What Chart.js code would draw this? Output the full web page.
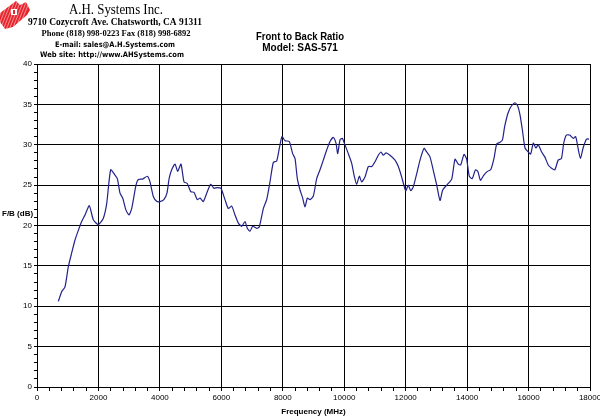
<!DOCTYPE html>
<html>
<head>
<meta charset="utf-8">
<script src="https://cdn.jsdelivr.net/npm/chart.js@4.4.1/dist/chart.umd.min.js"></script>
<style>
  html, body { margin: 0; padding: 0; background: #fff; }
  #wrap { width: 600px; height: 417px; }
</style>
</head>
<body>
<div id="wrap"><canvas id="fbChart"></canvas></div>
<script>
// Front to back ratio
const freqMHz = [
  694, 803, 911, 1020, 1129, 1237, 1345, 1454, 1562, 1703, 1834, 1997, 2159, 2268,
  2398, 2539, 2615, 2702, 2789, 2897, 2995, 3082, 3222, 3298, 3440, 3591, 3678, 3786,
  3895, 4000, 4130, 4230, 4300, 4384, 4492, 4580, 4687, 4785, 4893, 5003, 5110, 5218,
  5306, 5413, 5524, 5654, 5761, 5869, 5989, 6119, 6227, 6337, 6445, 6553, 6662, 6770,
  6845, 6933, 7021, 7151, 7237, 7367, 7476, 7584, 7692, 7802, 7887, 7975, 8072, 8213,
  8322, 8398, 8474, 8561, 8648, 8723, 8799, 8886, 8995, 9104, 9212, 9319, 9430, 9537,
  9646, 9732, 9788, 9863, 9938, 10003, 10133, 10244, 10319, 10406, 10491, 10569, 10676,
  10784, 10894, 11002, 11109, 11197, 11273, 11360, 11490, 11653, 11761, 11871, 12001,
  12086, 12164, 12249, 12359, 12467, 12597, 12685, 12792, 12900, 13011, 13118, 13206,
  13336, 13499, 13606, 13713, 13791, 13899, 13986, 14071, 14166, 14271, 14350, 14433,
  14540, 14660, 14768, 14875, 14963, 15071, 15150, 15220, 15330, 15440, 15559, 15647,
  15722, 15800, 15884, 15990, 16069, 16155, 16240, 16315, 16425, 16530, 16640, 16750,
  16855, 16965, 17070, 17145, 17230, 17340, 17450, 17535, 17610, 17690, 17775, 17885, 17970
];
const fbRatio = [
  10.6, 11.8, 12.4, 14.9, 16.6, 18.2, 19.4, 20.5, 21.3, 22.45, 20.7, 20.1, 20.9, 22.7,
  26.9, 26.25, 25.8, 24.0, 23.4, 21.9, 21.3, 22.1, 25.0, 25.7, 25.75, 26.1, 25.4, 23.6,
  23.0, 22.95, 23.2, 24.0, 25.8, 26.9, 27.6, 26.7, 27.6, 25.4, 25.2, 24.2, 24.1, 23.2,
  23.4, 22.95, 24.0, 25.1, 24.6, 24.7, 24.6, 23.2, 22.1, 22.4, 21.3, 20.3, 19.9, 20.5,
  19.65, 19.3, 19.9, 19.65, 19.85, 22.1, 23.2, 25.4, 27.8, 28.0, 29.55, 31.0, 30.5, 30.4,
  28.9, 28.3, 25.8, 24.4, 23.4, 22.3, 23.4, 23.2, 23.65, 25.8, 26.9, 28.1, 29.35, 30.4,
  30.9, 30.2, 28.9, 30.6, 30.8, 30.2, 28.9, 27.7, 26.25, 25.1, 26.1, 25.4, 26.0,
  27.3, 27.3, 27.9, 28.7, 29.1, 28.7, 29.0, 28.7, 28.1, 27.3, 26.0, 24.3,
  25.0, 24.3, 24.8, 26.4, 28.1, 29.55, 29.1, 28.5, 26.8, 25.0, 23.1, 24.4,
  25.0, 25.75, 28.2, 27.6, 27.5, 28.8, 28.2, 26.1, 25.8, 26.9, 26.7, 25.6,
  26.2, 26.7, 26.9, 28.3, 30.1, 30.3, 30.6, 32.2, 33.9, 34.8, 35.2, 34.8,
  33.7, 31.8, 29.6, 29.1, 28.85, 30.2, 29.6, 30.0, 29.1, 28.5, 27.5, 27.1,
  26.9, 28.1, 28.3, 30.2, 31.2, 31.2, 30.8, 31.0, 29.6, 28.3, 29.6, 30.7, 30.7
];
const xMajorStep = 2000;
const yMajorStep = 5;
const headerLines = [
  'A.H. Systems Inc.',
  '9710 Cozycroft Ave. Chatsworth, CA 91311',
  'Phone (818) 998-0223 Fax (818) 998-6892',
  'E-mail: sales@A.H.Systems.com',
  'Web site: http://www.AHSystems.com'
];
const chartTitle = ['Front to Back Ratio', 'Model: SAS-571'];
const yTitle = 'F/B (dB)';
const xTitle = 'Frequency (MHz)';

const points = freqMHz.map((f, i) => ({ x: f, y: fbRatio[i] }));

// logo, letterhead, title and the horizontal y label
const decor = {
  id: 'decor',
  afterDraw(chart) {
    const c = chart.ctx;
    c.save();
    // red logo
    c.fillStyle = '#e8242c';
    c.beginPath();
    c.moveTo(0, 13); c.lineTo(16, 1); c.lineTo(20, 5); c.lineTo(26, 2);
    c.lineTo(30, 10); c.lineTo(27, 15); c.lineTo(13, 27); c.lineTo(5, 29); c.lineTo(0, 22);
    c.closePath();
    c.fill();
    c.strokeStyle = 'rgba(255,255,255,0.5)';
    c.lineWidth = 1;
    for (let k = 0; k < 32; k += 3) {
      c.beginPath(); c.moveTo(k, 0); c.lineTo(k - 12, 30); c.stroke();
    }
    c.fillStyle = '#fff';
    c.fillRect(11, 9, 6, 6);
    c.fillStyle = '#e8242c';
    c.fillRect(13, 10, 2, 4);

    c.fillStyle = '#000';
    c.textAlign = 'center';
    c.textBaseline = 'alphabetic';
    c.font = '14px "Liberation Serif"';
    c.fillText(headerLines[0], 116, 14, 94);
    c.font = 'bold 10.5px "Liberation Serif"';
    c.fillText(headerLines[1], 115, 25, 174);
    c.font = 'bold 8.5px "Liberation Serif"';
    c.fillText(headerLines[2], 116, 36, 154);
    c.font = 'bold 7.5px "DejaVu Sans"';
    c.fillText(headerLines[3], 115, 47, 120);
    c.fillText(headerLines[4], 112, 57, 144);

    c.font = 'bold 10px "Liberation Sans"';
    c.textBaseline = 'middle';
    c.fillText(chartTitle[0], 300, 37, 88);
    c.fillText(chartTitle[1], 300, 48);

    c.font = 'bold 8px "Liberation Sans"';
    c.textAlign = 'left';
    c.fillText(yTitle, 2, 214);
    c.restore();
  }
};

const ctx = document.getElementById('fbChart').getContext('2d');
const fbChart = new Chart(ctx, {
  type: 'line',
  data: {
    datasets: [{
      label: 'F/B',
      data: points,
      borderColor: '#22228a',
      borderWidth: 1.2,
      pointRadius: 0,
      fill: false,
      tension: 0.2
    }]
  },
  options: {
    responsive: true,
    maintainAspectRatio: false,
    animation: false,
    layout: { padding: { top: 64, right: 10, left: 0, bottom: 0 } },
    plugins: {
      legend: { display: false },
      tooltip: { enabled: false }
    },
    scales: {
      x: {
        type: 'linear',
        min: 0,
        max: 18000,
        afterFit: s => { s.height = 30; s.paddingLeft = 0; s.paddingRight = 0; },
        border: { color: '#000', width: 1 },
        grid: {
          color: c => (c.tick && c.tick.value % xMajorStep === 0) ? '#000' : 'rgba(0,0,0,0)',
          tickColor: '#000',
          tickLength: 4,
          lineWidth: 1
        },
        ticks: {
          stepSize: 400,
          autoSkip: false,
          maxRotation: 0,
          padding: 2,
          color: '#000',
          font: { family: 'Liberation Sans', size: 8 },
          callback: v => v % xMajorStep === 0 ? String(v) : ''
        },
        title: {
          display: true,
          text: xTitle,
          color: '#000',
          font: { family: 'Liberation Sans', size: 8, weight: 'bold' },
          padding: { top: 1, bottom: 0 }
        }
      },
      y: {
        min: 0,
        max: 40,
        afterFit: s => { s.width = 37; s.paddingTop = 0; s.paddingBottom = 0; },
        border: { color: '#000', width: 1 },
        grid: {
          color: c => (c.tick && c.tick.value % yMajorStep === 0) ? '#000' : 'rgba(0,0,0,0)',
          tickColor: '#000',
          tickLength: 3,
          lineWidth: 1
        },
        ticks: {
          stepSize: 1,
          autoSkip: false,
          padding: 2,
          color: '#000',
          font: { family: 'Liberation Sans', size: 8 },
          callback: v => v % yMajorStep === 0 ? String(v) : ''
        }
      }
    }
  },
  plugins: [decor]
});
</script>
</body>
</html>
